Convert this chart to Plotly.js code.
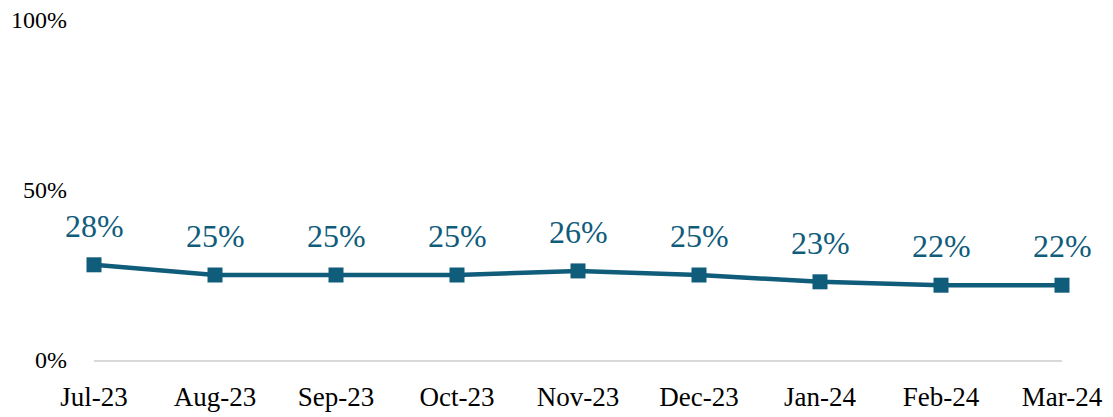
<!DOCTYPE html>
<html>
<head>
<meta charset="utf-8">
<script src="https://cdn.plot.ly/plotly-3.0.1.min.js"></script>
<style>html,body{margin:0;padding:0;background:#fff;}#chart{width:1113px;height:417px;}</style>
</head>
<body>
<div id="chart"></div>
<script>
const months = ["Jul-23","Aug-23","Sep-23","Oct-23","Nov-23","Dec-23","Jan-24","Feb-24","Mar-24"];
const shares = [28, 25, 25, 25, 26.2, 25, 23, 22, 22];
const yTicks = [0, 50, 100];
const yTickLabels = ["0%", "50%", "100%"];

const color = "#0F5C7B";
const serif = "'Liberation Serif', 'Times New Roman', Times, serif";

const trace = {
  x: months,
  y: shares,
  type: "scatter",
  mode: "lines+markers",
  line: {color: color, width: 4.5},
  marker: {symbol: "square", size: 15, color: color},
  cliponaxis: false,
  hoverinfo: "skip"
};

const annotations = months.map((m, i) => ({
  x: m, y: shares[i], xref: "x", yref: "y",
  text: Math.round(shares[i]) + "%",
  showarrow: false,
  yshift: 39,
  font: {family: serif, size: 32, color: color}
}));

const layout = {
  width: 1113, height: 417,
  margin: {l: 94, r: 51, t: 19.5, b: 56.5},
  paper_bgcolor: "#fff", plot_bgcolor: "#fff",
  showlegend: false,
  xaxis: {
    type: "category",
    range: [0, 8],
    showgrid: false, zeroline: false,
    showline: true, linecolor: "#d9d9d9", linewidth: 1.5,
    ticks: "", ticklabelstandoff: 12,
    tickfont: {family: serif, size: 27, color: "#000"}
  },
  yaxis: {
    range: [0, 100],
    tickvals: yTicks, ticktext: yTickLabels,
    showgrid: false, zeroline: false, showline: false,
    ticks: "", ticklabelstandoff: 26,
    tickfont: {family: serif, size: 24, color: "#000"}
  },
  annotations: annotations
};

Plotly.newPlot("chart", [trace], layout, {displayModeBar: false, staticPlot: true});
</script>
</body>
</html>
